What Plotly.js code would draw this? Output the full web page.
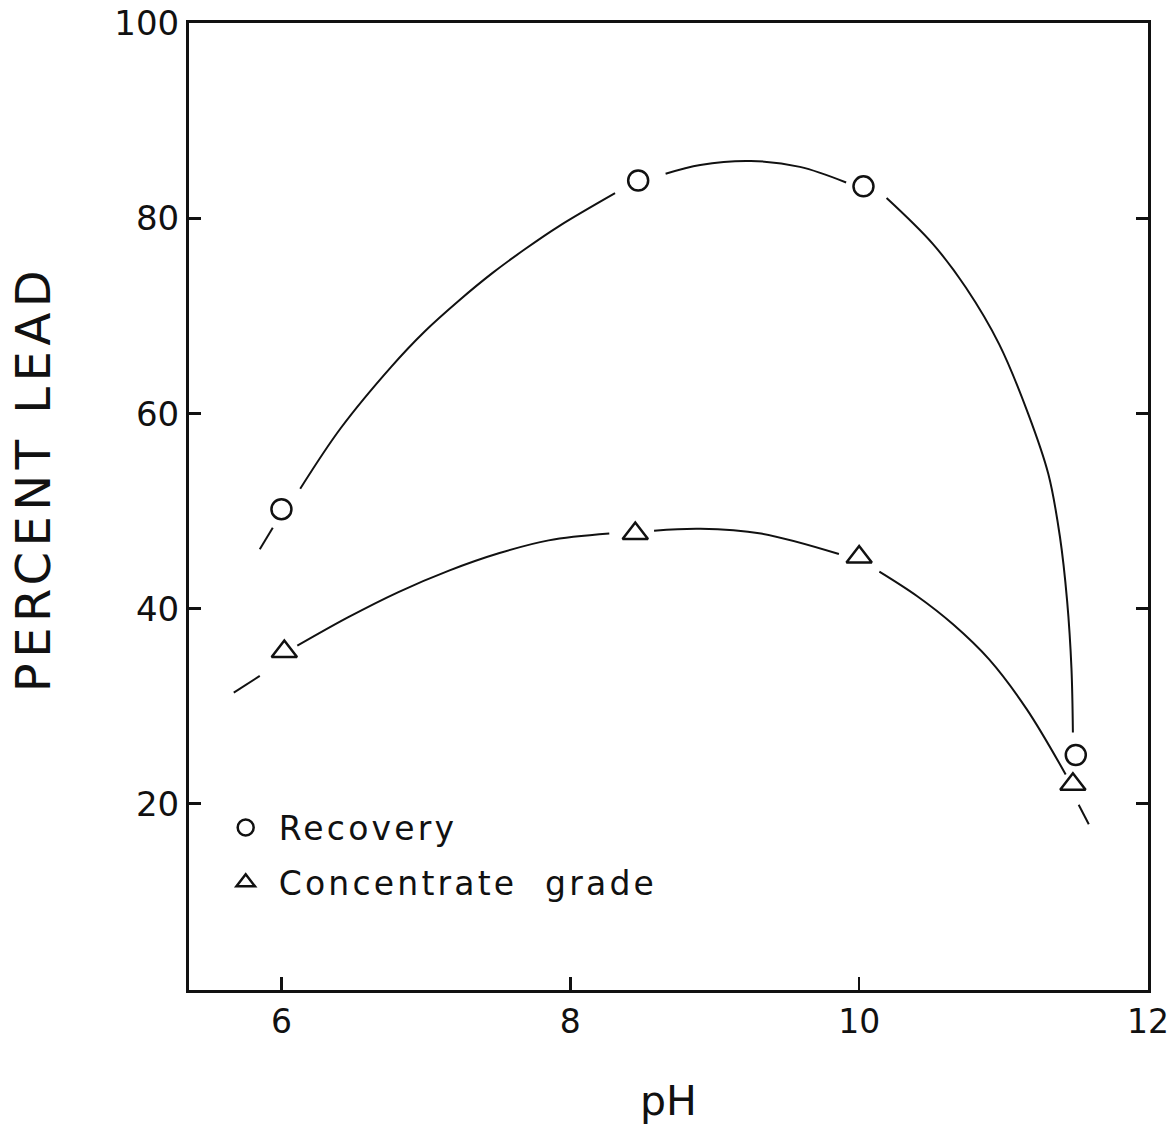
<!DOCTYPE html>
<html>
<head>
<meta charset="utf-8">
<script src="https://cdn.plot.ly/plotly-3.0.1.min.js"></script>
<style>
  html, body { margin: 0; padding: 0; background: #fff; }
  #chart { width: 1173px; height: 1125px; }
  .ytitle { letter-spacing: 5.5px; }
  .legendtext { letter-spacing: 3.2px; word-spacing: 14px; }
</style>
</head>
<body>
<div id="chart"></div>
<script>
// Measured data points
const recPH = [6.0, 8.47, 10.03, 11.5];
const recVal = [50.2, 83.9, 83.3, 25.0];
const conPH = [6.02, 8.45, 10.0, 11.48];
const conVal = [35.6, 47.7, 45.3, 22.0];

// Hand-drawn fitted curves (gaps around markers)
const recCurvePH  = [5.85, 5.94, null, 6.13, 6.41, 6.76, 6.99, 7.23, 7.46, 7.69, 7.92, 8.31, null, 8.66, 8.90, 9.25, 9.59, 9.91, null, 10.19, 10.51, 10.74, 10.97, 11.17, 11.31, 11.39, 11.44, 11.47, 11.48];
const recCurveVal = [46.1, 48.3, null, 52.3, 58.5, 64.8, 68.4, 71.6, 74.4, 76.9, 79.2, 82.6, null, 84.6, 85.5, 85.9, 85.3, 83.7, null, 82.1, 77.4, 72.9, 67.1, 60.0, 53.8, 47.4, 40.8, 33.9, 27.3];
const conCurvePH  = [5.67, 5.85, null, 6.11, 6.46, 6.81, 7.16, 7.51, 7.85, 8.27, null, 8.58, 8.90, 9.32, 9.86, null, 10.14, 10.40, 10.65, 10.90, 11.16, 11.43, null, 11.52, 11.59];
const conCurveVal = [31.4, 33.1, null, 36.2, 39.1, 41.7, 43.9, 45.7, 47.0, 47.7, null, 48.0, 48.2, 47.7, 45.6, null, 43.8, 41.3, 38.4, 34.8, 29.7, 23.0, null, 19.9, 17.9];

const xTicks = [6, 8, 10, 12];
const yTicks = [20, 40, 60, 80, 100];

const FONT = 'DejaVu Sans, Liberation Sans, sans-serif';
const INK = '#111';

const traces = [
  { x: recCurvePH, y: recCurveVal, mode: 'lines', line: { color: INK, width: 2, shape: 'spline', smoothing: 1 }, connectgaps: false, showlegend: false, hoverinfo: 'skip' },
  { x: conCurvePH, y: conCurveVal, mode: 'lines', line: { color: INK, width: 2, shape: 'spline', smoothing: 1 }, connectgaps: false, showlegend: false, hoverinfo: 'skip' },
  { x: recPH, y: recVal, mode: 'markers', name: 'Recovery', legendgroup: 'a',
    marker: { symbol: 'circle-open', size: 20, color: INK, line: { width: 2.5, color: INK } } },
  { x: conPH, y: conVal, mode: 'markers', name: 'Concentrate grade', legendgroup: 'b',
    marker: { symbol: 'triangle-up-open', size: 22, color: INK, line: { width: 2.5, color: INK } } }
];

const layout = {
  width: 1173, height: 1125,
  margin: { l: 189, r: 25, t: 23, b: 135 },
  paper_bgcolor: '#fff', plot_bgcolor: '#fff',
  font: { family: FONT, color: INK },
  showlegend: true,
  legend: {
    x: 0.0247, y: 0.197, xanchor: 'left', yanchor: 'top',
    bgcolor: 'rgba(0,0,0,0)', borderwidth: 0,
    font: { family: FONT, size: 33, color: INK },
    tracegroupgap: 9, itemwidth: 56
  },
  xaxis: {
    range: [5.36, 12], tickmode: 'array', tickvals: xTicks, ticktext: xTicks.map(String),
    ticks: 'inside', ticklen: 13, tickwidth: 2.5, tickcolor: INK,
    showline: true, linewidth: 3, linecolor: INK, mirror: true,
    showgrid: false, zeroline: false,
    tickfont: { family: FONT, size: 33, color: INK }, ticklabelstandoff: 0,
    title: { text: 'pH', font: { family: FONT, size: 41, color: INK }, standoff: 50 }
  },
  yaxis: {
    range: [0.9, 100.05], tickmode: 'array', tickvals: yTicks, ticktext: yTicks.map(String),
    ticks: 'inside', ticklen: 12, tickwidth: 2.5, tickcolor: INK,
    showline: true, linewidth: 3, linecolor: INK, mirror: 'ticks',
    showgrid: false, zeroline: false,
    tickfont: { family: FONT, size: 34, color: INK }, ticklabelstandoff: 0,
    title: { text: 'PERCENT LEAD', font: { family: FONT, size: 48, color: INK }, standoff: 49 }
  }
};

Plotly.newPlot('chart', traces, layout, { staticPlot: true, displayModeBar: false }).then(function (gd) {
  // nudge the rotated y-axis title upward to sit where the original lettering is
  const t = gd.querySelector('.ytitle');
  if (t) {
    const tr = t.getAttribute('transform') || '';
    t.setAttribute('transform', 'translate(0,-28) ' + tr);
  }
});
</script>
</body>
</html>
